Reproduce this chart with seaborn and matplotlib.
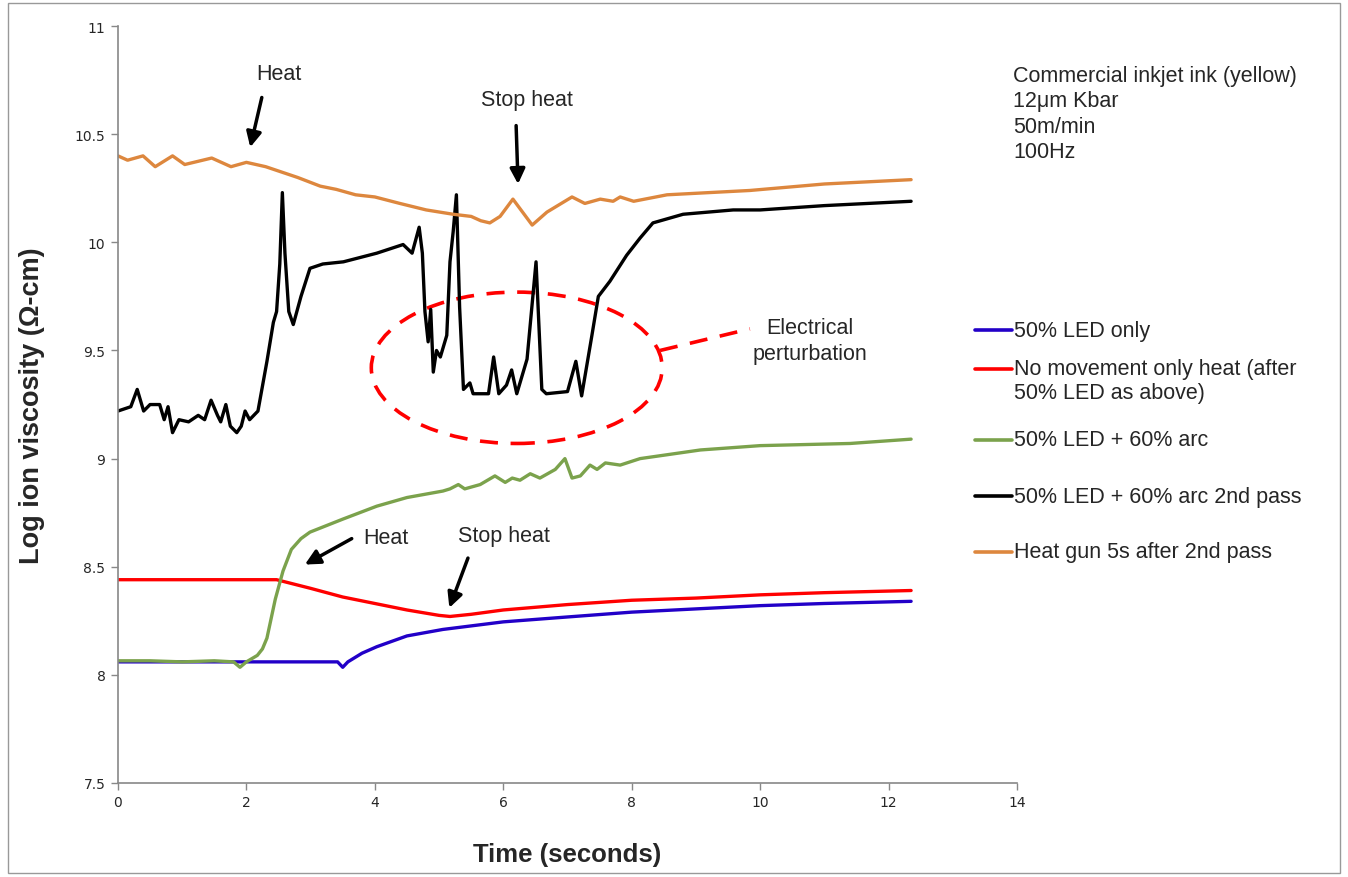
import numpy as np
import pandas as pd
import seaborn as sns
import matplotlib.pyplot as plt
from matplotlib.patches import Ellipse, Rectangle
from matplotlib.lines import Line2D

# Series (time in s, log ion viscosity)
blue_t = [0, 1.0, 2.0, 3.0, 3.42, 3.5, 3.58, 3.8, 4.03, 4.5, 5.06, 6.0, 6.88, 8.0, 9.0, 10.0, 11.0, 12.35]
blue_v = [8.06, 8.06, 8.06, 8.06, 8.06, 8.035, 8.06, 8.10, 8.13, 8.18, 8.21, 8.245, 8.265, 8.29, 8.305, 8.32, 8.33, 8.34]

red_t = [0, 1.0, 2.0, 2.47, 3.0, 3.5, 4.0, 4.5, 5.0, 5.17, 5.5, 6.0, 7.0, 8.0, 9.0, 10.0, 11.0, 12.35]
red_v = [8.44, 8.44, 8.44, 8.44, 8.40, 8.36, 8.33, 8.30, 8.275, 8.27, 8.28, 8.30, 8.325, 8.345, 8.355, 8.37, 8.38, 8.39]

green_t = [0, 0.5, 1.0, 1.5, 1.8, 1.9, 2.0, 2.17, 2.25, 2.32, 2.45, 2.57, 2.7, 2.85, 2.99, 3.5, 4.03, 4.5,
           5.06, 5.17, 5.3, 5.4, 5.64, 5.87, 6.03, 6.14, 6.26, 6.42, 6.57, 6.81, 6.96, 7.07, 7.2, 7.35,
           7.46, 7.59, 7.82, 8.13, 9.07, 10.0, 11.4, 12.35]
green_v = [8.065, 8.065, 8.06, 8.065, 8.06, 8.035, 8.06, 8.09, 8.12, 8.17, 8.35, 8.48, 8.58, 8.63, 8.66, 8.72, 8.78, 8.82,
           8.85, 8.86, 8.88, 8.86, 8.88, 8.92, 8.89, 8.91, 8.90, 8.93, 8.91, 8.95, 9.00, 8.91, 8.92, 8.97,
           8.95, 8.98, 8.97, 9.00, 9.04, 9.06, 9.07, 9.09]

black_t = [0, 0.1, 0.2, 0.3, 0.4, 0.5, 0.65, 0.72, 0.78, 0.85, 0.95, 1.1, 1.25, 1.35, 1.45, 1.55, 1.6, 1.68,
           1.75, 1.85, 1.92, 1.98, 2.05, 2.18, 2.32, 2.42, 2.47, 2.52, 2.56, 2.6, 2.66, 2.73, 2.85, 2.99,
           3.19, 3.51, 4.03, 4.44, 4.58, 4.69, 4.74, 4.78, 4.83, 4.87, 4.91, 4.96, 5.02, 5.12, 5.17, 5.22,
           5.27, 5.32, 5.38, 5.48, 5.53, 5.77, 5.85, 5.93, 6.05, 6.13, 6.21, 6.37, 6.51, 6.6, 6.67, 7.0,
           7.13, 7.22, 7.38, 7.48, 7.66, 7.92, 8.13, 8.33, 8.8, 9.58, 10.0, 11.0, 12.35]
black_v = [9.22, 9.23, 9.24, 9.32, 9.22, 9.25, 9.25, 9.18, 9.24, 9.12, 9.18, 9.17, 9.20, 9.18, 9.27, 9.20, 9.17, 9.25,
           9.15, 9.12, 9.15, 9.22, 9.18, 9.22, 9.45, 9.63, 9.68, 9.90, 10.23, 9.95, 9.68, 9.62, 9.75, 9.88,
           9.90, 9.91, 9.95, 9.99, 9.95, 10.07, 9.95, 9.68, 9.54, 9.69, 9.40, 9.50, 9.47, 9.57, 9.91, 10.05,
           10.22, 9.70, 9.32, 9.35, 9.30, 9.30, 9.47, 9.30, 9.34, 9.41, 9.30, 9.46, 9.91, 9.32, 9.30, 9.31,
           9.45, 9.29, 9.57, 9.75, 9.82, 9.94, 10.02, 10.09, 10.13, 10.15, 10.15, 10.17, 10.19]

orange_t = [0, 0.15, 0.39, 0.58, 0.85, 1.04, 1.46, 1.76, 2.0, 2.3, 2.5, 2.8, 3.15, 3.4, 3.7, 4.0, 4.39, 4.8,
            5.22, 5.5, 5.65, 5.79, 5.95, 6.15, 6.45, 6.68, 7.07, 7.27, 7.51, 7.71, 7.82, 8.03, 8.55, 9.84,
            11.0, 12.35]
orange_v = [10.40, 10.38, 10.40, 10.35, 10.40, 10.36, 10.39, 10.35, 10.37, 10.35, 10.33, 10.30, 10.26, 10.245, 10.22, 10.21, 10.18, 10.15,
            10.13, 10.12, 10.10, 10.09, 10.12, 10.20, 10.08, 10.14, 10.21, 10.18, 10.20, 10.19, 10.21, 10.19, 10.22, 10.24,
            10.27, 10.29]

labels = ["50% LED only",
          "No movement only heat (after\n50% LED as above)",
          "50% LED + 60% arc",
          "50% LED + 60% arc 2nd pass",
          "Heat gun 5s after 2nd pass"]
colors = ["#2200C8", "#FF0000", "#7BA24C", "#000000", "#DD873E"]

series = [(blue_t, blue_v), (red_t, red_v), (green_t, green_v), (black_t, black_v), (orange_t, orange_v)]
df = pd.concat([pd.DataFrame({"Time": t, "Value": v, "Series": lab})
                for (t, v), lab in zip(series, labels)], ignore_index=True)

sns.set_style("white")
plt.rcParams['font.family'] = ['Liberation Sans', 'DejaVu Sans']

fig = plt.figure(figsize=(13.48, 8.78), dpi=100)
ax = fig.add_axes([0.0875, 0.1071, 0.667, 0.862])

sns.lineplot(data=df, x="Time", y="Value", hue="Series", hue_order=labels,
             palette=dict(zip(labels, colors)), sort=False, estimator=None,
             linewidth=2.4, ax=ax, legend=False)

ax.set_xlim(0, 14)
ax.set_ylim(7.5, 11)
ax.set_xticks(np.arange(0, 15, 2))
ax.set_yticks(np.arange(7.5, 11.01, 0.5))
ax.set_yticklabels(["7.5", "8", "8.5", "9", "9.5", "10", "10.5", "11"])
for lab in ax.get_xticklabels() + ax.get_yticklabels():
    lab.set_fontfamily("DejaVu Sans")
    lab.set_fontsize(10)
ax.tick_params(axis="both", direction="out", length=5, width=1, color="#888888", pad=4)
ax.tick_params(axis="both", which="both", bottom=True, left=True)
sns.despine(ax=ax)
for s in ["left", "bottom"]:
    ax.spines[s].set_color("#888888")
    ax.spines[s].set_linewidth(1.2)

ax.set_xlabel("Time (seconds)", fontsize=18.5, fontweight="bold")
ax.set_ylabel("Log ion viscosity (\u03a9-cm)", fontsize=19.5, fontweight="bold")
ax.xaxis.set_label_coords(0.5, -0.078)
ax.yaxis.set_label_coords(-0.081, 0.5)

# annotations
fs = 15.5
arrow = dict(arrowstyle="-|>,head_length=0.9,head_width=0.45", color="black", lw=2.5, shrinkA=0, shrinkB=0)
ax.annotate("", xy=(2.06, 10.44), xytext=(2.24, 10.67), arrowprops=arrow)
ax.text(2.5, 10.78, "Heat", fontsize=fs, ha="center", va="center")
ax.annotate("", xy=(6.23, 10.27), xytext=(6.2, 10.54), arrowprops=arrow)
ax.text(6.37, 10.66, "Stop heat", fontsize=fs, ha="center", va="center")
ax.annotate("", xy=(2.91, 8.51), xytext=(3.64, 8.63), arrowprops=arrow)
ax.text(4.17, 8.635, "Heat", fontsize=fs, ha="center", va="center")
ax.annotate("", xy=(5.16, 8.31), xytext=(5.45, 8.54), arrowprops=arrow)
ax.text(6.01, 8.645, "Stop heat", fontsize=fs, ha="center", va="center")

ax.add_patch(Ellipse((6.21, 9.42), 4.53, 0.70, fill=False, edgecolor="#FF0000",
                     lw=2.6, linestyle=(0, (5, 3.5))))
ax.plot([8.44, 9.84], [9.50, 9.60], color="#FF0000", lw=2.6, linestyle=(0, (5, 3.5)))
ax.text(10.78, 9.548, "Electrical\nperturbation", fontsize=fs, ha="center", va="center",
        linespacing=1.3)

fig.text(1013 / 1348, 1 - 66 / 878, "Commercial inkjet ink (yellow)\n12\u03bcm Kbar\n50m/min\n100Hz",
         fontsize=fs, ha="left", va="top", linespacing=1.28)

# legend, laid out as in the reference
leg_y = [331, 381.5, 441, 497, 553]
leg_handle_y = [331, 370, 441, 497, 553]
for lab, c, ty, hy in zip(labels, colors, leg_y, leg_handle_y):
    fig.add_artist(Line2D([975 / 1348, 1012 / 1348], [1 - hy / 878, 1 - hy / 878],
                          color=c, lw=2.6, transform=fig.transFigure))
    fig.text(1014 / 1348, 1 - ty / 878, lab, fontsize=fs, ha="left", va="center",
             linespacing=1.24)

fig.patches.append(Rectangle((0.006, 0.004), 0.988, 0.992, transform=fig.transFigure,
                             fill=False, edgecolor="#999999", lw=1))

fig.savefig("out.png", dpi=100)
